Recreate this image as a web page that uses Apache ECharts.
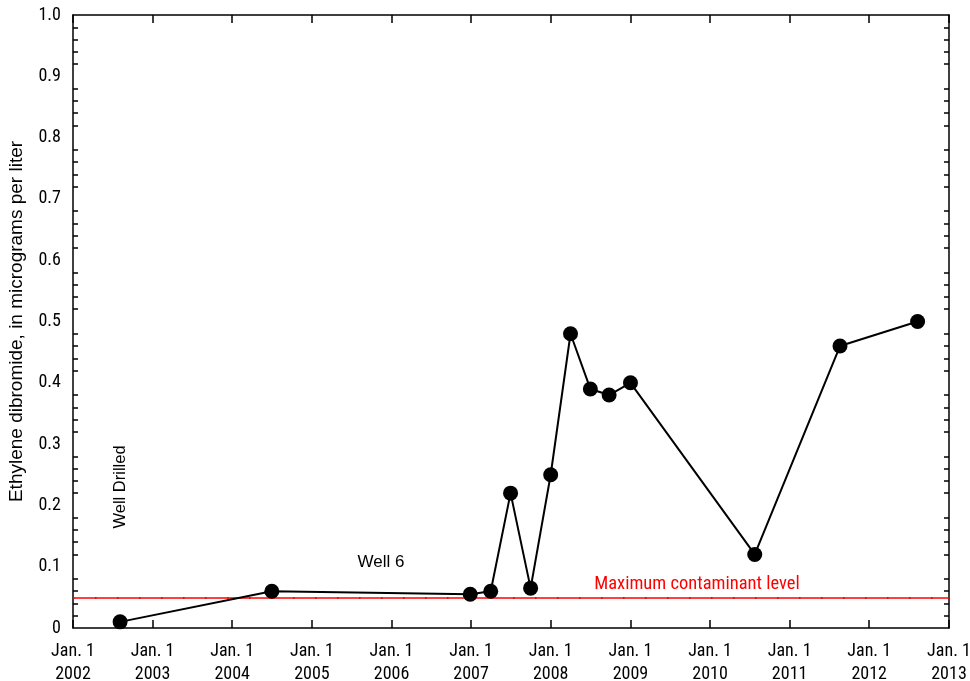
<!DOCTYPE html>
<html><head><meta charset="utf-8">
<script src="https://cdn.jsdelivr.net/npm/echarts@6/dist/echarts.min.js"></script>
<style>html,body{margin:0;padding:0;background:#fff}#c{width:970px;height:681px}</style>
</head><body><div id="c"></div>
<script>
var dates = ['2002-08-05','2004-07-01','2006-12-28','2007-04-01','2007-07-01','2007-10-01','2008-01-01','2008-04-01','2008-07-01','2008-09-25','2009-01-01','2010-07-25','2011-08-20','2012-08-10'];
var values = [0.01,0.06,0.055,0.06,0.22,0.065,0.25,0.48,0.39,0.38,0.40,0.12,0.46,0.50];
var mcl = 0.05;
var yTicks = [0,0.1,0.2,0.3,0.4,0.5,0.6,0.7,0.8,0.9,1.0];
var NARROW = '"Roboto Condensed","Liberation Sans Narrow",sans-serif';
var SANS = '"Liberation Sans",Arial,sans-serif';
var YEAR = 365*86400000;
var chart = echarts.init(document.getElementById('c'));
var data = dates.map(function(d,i){return [d, values[i]];});
var axisLine = {show:true, onZero:false, lineStyle:{color:'#000', width:1.5}};
chart.setOption({
  animation:false,
  grid:{left:73,right:21,top:15,bottom:53,containLabel:false,outerBoundsMode:'none'},
  xAxis:[{
    type:'time', min:'2002-01-01', max:'2013-01-01', minInterval:YEAR, maxInterval:YEAR+86400000*2,
    axisLine:axisLine, axisTick:{inside:true,length:8,lineStyle:{color:'#000',width:1.5}},
    splitLine:{show:false},
    axisLabel:{color:'#000',fontFamily:NARROW,fontSize:18,lineHeight:23,margin:12,showMinLabel:true,showMaxLabel:true,
      formatter:function(v){return 'Jan. 1\n'+new Date(v).getUTCFullYear();}}
  },{
    type:'time', position:'top', min:'2002-01-01', max:'2013-01-01', minInterval:YEAR, maxInterval:YEAR+86400000*2,
    axisLine:axisLine, axisTick:{inside:true,length:8,lineStyle:{color:'#000',width:1.5}},
    axisLabel:{show:false}, splitLine:{show:false}
  }],
  yAxis:[{
    type:'value', min:0, max:1, interval:0.1,
    name:'Ethylene dibromide, in micrograms per liter', nameLocation:'middle', nameGap:47,
    nameTextStyle:{color:'#000',fontFamily:SANS,fontSize:19},
    axisLine:axisLine, axisTick:{inside:true,length:9,lineStyle:{color:'#000',width:1.5}},
    minorTick:{show:true,splitNumber:5,length:5,lineStyle:{color:'#000',width:1.5}},
    splitLine:{show:false},
    axisLabel:{color:'#000',fontFamily:NARROW,fontSize:18,margin:12,
      formatter:function(v){var t=yTicks.filter(function(x){return Math.abs(x-v)<1e-9;})[0];return t===0?'0':t.toFixed(1);}}
  },{
    type:'value', min:0, max:1, interval:0.1, position:'right',
    axisLine:axisLine, axisTick:{inside:true,length:9,lineStyle:{color:'#000',width:1.5}},
    minorTick:{show:true,splitNumber:5,length:5,lineStyle:{color:'#000',width:1.5}},
    splitLine:{show:false}, axisLabel:{show:false}
  }],
  series:[{
    type:'line', data:data, xAxisIndex:0, yAxisIndex:0,
    symbol:'circle', symbolSize:15, z:5,
    lineStyle:{color:'#000',width:2}, itemStyle:{color:'#000'},
    markLine:{silent:true,symbol:'none',label:{show:false},
      data:[
        {yAxis:mcl, lineStyle:{color:'#ff0000',width:1.5,type:'solid'}},
        {yAxis:mcl+0.003, lineStyle:{color:'#ff0000',width:2,type:[1.5,20.5]}}
      ]}
  }],
  graphic:[
    {type:'text', x:120, y:487, rotation:Math.PI/2, style:{text:'Well Drilled', fill:'#000', font:'16.5px '+SANS, textAlign:'center', textVerticalAlign:'middle'}},
    {type:'text', x:381, y:562, style:{text:'Well 6', fill:'#000', font:'17px '+SANS, textAlign:'center', textVerticalAlign:'middle'}},
    {type:'text', x:697, y:584, style:{text:'Maximum contaminant level', fill:'#ff0000', font:'18.5px '+NARROW, textAlign:'center', textVerticalAlign:'middle'}}
  ]
});
</script></body></html>
